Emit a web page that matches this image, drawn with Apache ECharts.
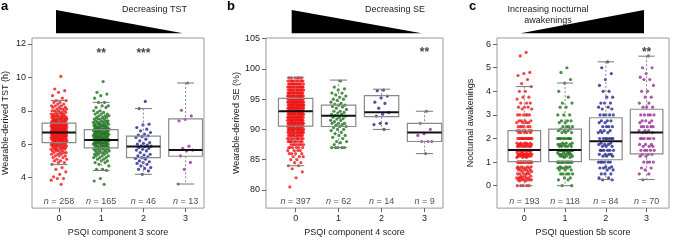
<!DOCTYPE html>
<html>
<head>
<meta charset="utf-8">
<script src="https://cdn.jsdelivr.net/npm/echarts@6/dist/echarts.min.js"></script>
<style>
  html, body { margin: 0; padding: 0; background: #fff; }
  #chart { width: 674px; height: 242px; }
</style>
</head>
<body>
<div id="chart"></div>
<script>
// group colours, same order in each panel (score 0..3)
const groupColors = ['#f01616', '#1a721a', '#23238f', '#932d93'];
const categories = [0, 1, 2, 3];

// box stats: [lower whisker, Q1, median, Q3, upper whisker]
const tstBox = [[4.78, 6.09, 6.7, 7.26, 8.62], [4.43, 5.78, 6.25, 6.87, 8.5], [4.2, 5.2, 5.86, 6.48, 8.13], [3.62, 5.28, 5.65, 7.51, 9.66]];
const seBox = [[84.0, 90.53, 93.0, 95.14, 98.6], [87.0, 90.48, 92.25, 94.0, 98.15], [90.0, 92.1, 92.85, 95.58, 96.64], [86.0, 88.0, 89.5, 91.0, 93.0]];
const wakeBox = [[0, 1.02, 1.51, 2.33, 4.2], [0, 1.02, 1.51, 2.4, 4.35], [0.26, 1.1, 1.88, 2.88, 5.25], [0.26, 1.35, 2.25, 3.24, 5.49]];

// individual points, as [value, how many at that value]
const tst0 = [[10.05,1],[9.3,1],[9.2,1],[9.1,1],[8.9,1],[8.75,1],[8.6,2],[8.5,2],[8.4,2],[8.3,3],[8.2,3],[8.1,4],[8.0,4],[7.9,4],[7.8,5],[7.7,6],[7.6,7],[7.5,8],[7.4,9],[7.3,10],[7.2,11],[7.1,12],[7.0,12],[6.9,12],[6.8,12],[6.7,12],[6.6,12],[6.5,12],[6.4,11],[6.3,10],[6.2,10],[6.1,9],[6.0,8],[5.9,7],[5.8,6],[5.7,5],[5.6,4],[5.5,4],[5.4,3],[5.3,3],[5.2,2],[5.1,2],[5.0,2],[4.9,2],[4.8,1],[4.6,1],[4.5,1],[4.35,1],[4.2,1],[4.05,1],[3.95,2],[3.85,1],[3.6,1]];
const tst1 = [[9.75,1],[9.1,1],[9.0,1],[8.9,1],[8.75,1],[8.5,2],[8.3,2],[8.2,2],[8.0,2],[7.9,2],[7.8,3],[7.7,3],[7.6,3],[7.5,4],[7.4,4],[7.3,5],[7.2,5],[7.1,6],[7.0,6],[6.9,7],[6.8,7],[6.7,7],[6.6,7],[6.5,7],[6.4,7],[6.3,7],[6.2,7],[6.1,7],[6.0,6],[5.9,6],[5.8,6],[5.7,5],[5.6,4],[5.5,4],[5.4,3],[5.3,3],[5.2,3],[5.1,2],[5.0,2],[4.9,2],[4.8,1],[4.7,1],[4.5,2],[4.43,1],[3.95,1],[3.8,1],[3.6,1]];
const tst2 = [[8.56,1],[8.13,1],[7.2,1],[7.15,1],[7.0,1],[6.9,1],[6.8,1],[6.7,1],[6.6,1],[6.55,1],[6.5,1],[6.45,1],[6.4,1],[6.3,1],[6.2,1],[6.1,1],[6.05,1],[6.0,1],[5.95,1],[5.9,1],[5.88,1],[5.85,1],[5.8,1],[5.75,1],[5.7,1],[5.65,1],[5.6,1],[5.5,1],[5.4,1],[5.35,1],[5.3,1],[5.25,1],[5.2,1],[5.15,1],[5.1,1],[5.0,1],[4.95,1],[4.9,1],[4.85,1],[4.8,1],[4.7,1],[4.6,1],[4.55,1],[4.5,1],[4.4,1],[4.2,1]];
const tst3 = [[9.66,1],[8.03,1],[7.69,1],[7.49,1],[7.4,1],[5.88,1],[5.75,1],[5.65,1],[5.6,1],[5.3,1],[4.91,1],[4.5,1],[3.62,1]];

const se0 = [[98.5,6],[98,10],[97.5,12],[97,14],[96.5,15],[96,16],[95.5,17],[95,18],[94.5,19],[94,20],[93.5,20],[93,20],[92.5,20],[92,19],[91.5,18],[91,18],[90.5,17],[90,16],[89.5,14],[89,12],[88.5,10],[88,9],[87.5,7],[87,6],[86.5,4],[86,4],[85.5,3],[85,2],[84.5,2],[84,2],[83.5,1],[83,1],[82,1],[80.5,1]];
const se1 = [[98,1],[97,1],[96.7,1],[96.5,1],[96,2],[95.7,1],[95.5,1],[95.3,1],[95,2],[94.8,1],[94.5,1],[94.3,1],[94.2,1],[94,2],[93.8,1],[93.7,1],[93.5,1],[93.3,1],[93,2],[92.8,1],[92.7,1],[92.5,2],[92.3,1],[92.2,1],[92,2],[91.8,1],[91.7,1],[91.5,2],[91.3,1],[91,3],[90.8,1],[90.7,1],[90.5,2],[90.3,1],[90,2],[89.8,1],[89.5,1],[89.3,1],[89,2],[88.7,1],[88.5,1],[88,2],[87.8,1],[87.5,1],[87,5]];
const se2 = [[96.5,1],[96.4,1],[95.5,1],[95.2,1],[94.5,1],[94.3,1],[93.5,1],[92.8,1],[92.5,1],[92.2,1],[91,2],[90.8,1],[90,1]];
const se3 = [[93,1],[91,1],[90,1],[89.3,1],[89,1],[88,3],[86,1]];

const wake0 = [[5.65,1],[5.5,1],[4.8,1],[4.75,1],[4.67,1],[4.5,1],[4.33,1],[4.2,1],[4.0,2],[3.75,2],[3.67,1],[3.5,3],[3.33,3],[3.25,2],[3.0,6],[2.75,4],[2.67,4],[2.5,6],[2.33,6],[2.25,5],[2.0,15],[1.8,5],[1.75,6],[1.67,8],[1.5,14],[1.4,5],[1.33,8],[1.25,8],[1.2,3],[1.0,24],[0.8,4],[0.75,5],[0.67,5],[0.6,3],[0.5,6],[0.4,3],[0.33,6],[0.25,6],[0.2,2],[0,5]];
const wake1 = [[5.0,1],[4.8,1],[4.5,1],[4.35,1],[4.0,1],[3.75,1],[3.5,2],[3.33,2],[3.0,3],[2.75,3],[2.67,2],[2.5,4],[2.4,2],[2.33,3],[2.25,3],[2.0,10],[1.8,3],[1.75,4],[1.67,5],[1.5,13],[1.4,4],[1.33,5],[1.25,4],[1.2,2],[1.0,17],[0.8,3],[0.75,4],[0.67,3],[0.5,5],[0.33,2],[0.25,2],[0,2]];
const wake2 = [[5.25,1],[5.0,1],[4.75,1],[4.5,1],[4.25,1],[4.0,2],[3.75,2],[3.5,3],[3.33,2],[3.25,2],[3.0,5],[2.75,3],[2.67,2],[2.5,4],[2.33,3],[2.25,3],[2.0,7],[1.8,2],[1.75,3],[1.67,3],[1.5,6],[1.33,4],[1.25,3],[1.0,6],[0.8,2],[0.75,3],[0.67,2],[0.5,3],[0.33,2],[0.25,2]];
const wake3 = [[5.5,1],[5.0,2],[4.75,1],[4.6,1],[4.5,2],[4.25,1],[4.0,2],[3.75,2],[3.5,2],[3.33,3],[3.0,5],[2.75,3],[2.67,2],[2.5,5],[2.33,3],[2.25,3],[2.0,6],[1.75,3],[1.67,3],[1.5,5],[1.33,3],[1.25,2],[1.0,4],[0.75,2],[0.67,1],[0.5,2],[0.25,1]];

// group sizes and significance marks
const tstN = [258, 165, 46, 13];
const seN = [397, 62, 14, 9];
const wakeN = [193, 118, 84, 70];
const tstStars = ['', '**', '***', ''];
const seStars = ['', '', '', '**'];
const wakeStars = ['', '', '', '**'];

// y tick labels
const tstTicks = [4, 6, 8, 10, 12];
const seTicks = [80, 85, 90, 95, 100, 105];
const wakeTicks = [0, 1, 2, 3, 4, 5, 6];

const FONT = 'Liberation Sans, Arial, sans-serif';
const BOX_W = 0.8;
const JITTER = 0.19;

const panels = [
    { box: tstBox, pts: [tst0, tst1, tst2, tst3], n: tstN, stars: tstStars, yTicks: tstTicks,
      grid: { left: 32, top: 38, width: 172, height: 175 }, x: [-0.64, 3.436], y: [2.18, 12.35],
      nY: 2.6, starY: 11.4, yName: 'Wearable-derived TST (h)', xName: 'PSQI component 3 score' },
    { box: seBox, pts: [se0, se1, se2, se3], n: seN, stars: seStars, yTicks: seTicks,
      grid: { left: 266, top: 38, width: 177, height: 175 }, x: [-0.69, 3.43], y: [77, 105.1],
      nY: 78.16, starY: 102.6, yName: 'Wearable-derived SE (%)', xName: 'PSQI component 4 score' },
    { box: wakeBox, pts: [wake0, wake1, wake2, wake3], n: wakeN, stars: wakeStars, yTicks: wakeTicks,
      grid: { left: 497, top: 38, width: 172, height: 175 }, x: [-0.67, 3.55], y: [-0.95, 6.26],
      nY: -0.65, starY: 5.63, yName: 'Nocturnal awakenings', xName: 'PSQI question 5b score' }
];

function expand(bins) {
    const out = [];
    bins.forEach(([v, c]) => { for (let i = 0; i < c; i++) out.push(v); });
    return out;
}

// spread points sideways (golden ratio sequence, so it is the same every time)
function jitter(k) {
    return (((k + 1) * 0.6180339887) % 1 - 0.5) * 2 * JITTER;
}

function renderBox(params, api) {
    const x = api.value(0);
    const lo = api.coord([x, api.value(1)]);
    const q1 = api.coord([x, api.value(2)]);
    const md = api.coord([x, api.value(3)]);
    const q3 = api.coord([x, api.value(4)]);
    const hi = api.coord([x, api.value(5)]);
    const half = api.size([BOX_W, 0])[0] / 2;
    const cap = half / 2;
    const cx = lo[0];
    const dashed = { stroke: '#8a8a8a', lineWidth: 1, lineDash: [2, 2] };
    const grey = { stroke: '#777', lineWidth: 1 };
    return {
        type: 'group',
        children: [
            { type: 'line', shape: { x1: cx, y1: hi[1], x2: cx, y2: q3[1] }, style: dashed },
            { type: 'line', shape: { x1: cx, y1: q1[1], x2: cx, y2: lo[1] }, style: dashed },
            { type: 'line', shape: { x1: cx - cap, y1: hi[1], x2: cx + cap, y2: hi[1] }, style: grey },
            { type: 'line', shape: { x1: cx - cap, y1: lo[1], x2: cx + cap, y2: lo[1] }, style: grey },
            { type: 'rect', shape: { x: cx - half, y: q3[1], width: half * 2, height: q1[1] - q3[1] },
              style: { fill: 'none', stroke: '#8a8a8a', lineWidth: 1.2 } },
            { type: 'line', shape: { x1: cx - half, y1: md[1], x2: cx + half, y2: md[1] },
              style: { stroke: '#111', lineWidth: 2 } }
        ]
    };
}

const grids = [], xAxes = [], yAxes = [], series = [];

panels.forEach((p, i) => {
    grids.push(Object.assign({ show: true, borderColor: '#999', borderWidth: 1 }, p.grid));
    xAxes.push({
        gridIndex: i, type: 'value', min: p.x[0], max: p.x[1],
        axisLine: { show: false, onZero: false }, splitLine: { show: false },
        axisTick: { show: true, customValues: categories, length: 4, lineStyle: { color: '#666' } },
        axisLabel: { customValues: categories, fontSize: 9, color: '#222', margin: 6, fontFamily: FONT },
        name: p.xName, nameLocation: 'middle', nameGap: 16,
        nameTextStyle: { fontSize: 9, color: '#222', fontFamily: FONT }
    });
    yAxes.push({
        gridIndex: i, type: 'value', min: p.y[0], max: p.y[1],
        axisLine: { show: false, onZero: false }, splitLine: { show: false },
        axisTick: { show: true, customValues: p.yTicks, length: 4, lineStyle: { color: '#666' } },
        axisLabel: { customValues: p.yTicks, fontSize: 9, color: '#222', margin: 6, fontFamily: FONT },
        name: p.yName, nameLocation: 'middle', nameRotate: 90, nameGap: 22,
        nameTextStyle: { fontSize: 9, color: '#222', fontFamily: FONT }
    });

    p.pts.forEach((bins, g) => {
        const vals = expand(bins);
        series.push({
            type: 'scatter', xAxisIndex: i, yAxisIndex: i, z: 2,
            symbol: 'circle', symbolSize: 3.2, silent: true,
            itemStyle: { color: groupColors[g], opacity: 0.8 },
            data: vals.map((v, k) => [g + jitter(k), v])
        });
    });

    series.push({
        type: 'custom', xAxisIndex: i, yAxisIndex: i, z: 5, silent: true,
        renderItem: renderBox,
        encode: { x: 0, y: [1, 2, 3, 4, 5] },
        data: p.box.map((b, g) => [g].concat(b))
    });

    // n = ... labels and significance stars
    series.push({
        type: 'scatter', xAxisIndex: i, yAxisIndex: i, z: 6, symbolSize: 0, silent: true,
        label: {
            show: true, position: 'inside', fontSize: 9, color: '#222', fontFamily: FONT,
            formatter: (d) => '{i|n} = ' + d.value[2],
            rich: { i: { fontStyle: 'italic', fontSize: 9, fontFamily: FONT, color: '#222' } }
        },
        data: p.n.map((n, g) => [g, p.nY, n])
    });
    series.push({
        type: 'scatter', xAxisIndex: i, yAxisIndex: i, z: 6, symbolSize: 0, silent: true,
        label: {
            show: true, position: 'inside', fontSize: 12, fontWeight: 'bold', color: '#111', fontFamily: FONT,
            formatter: (d) => d.value[2]
        },
        data: p.stars.map((s, g) => [g, p.starY, s]).filter(d => d[2])
    });
});

const textStyle = { fontSize: 9, fill: '#222', fontFamily: FONT };
const graphic = [
    { type: 'text', left: 1, top: 0, style: { text: 'a', fontSize: 13, fontWeight: 'bold', fill: '#000', fontFamily: FONT } },
    { type: 'text', left: 227, top: 0, style: { text: 'b', fontSize: 13, fontWeight: 'bold', fill: '#000', fontFamily: FONT } },
    { type: 'text', left: 469, top: 0, style: { text: 'c', fontSize: 13, fontWeight: 'bold', fill: '#000', fontFamily: FONT } },
    { type: 'polygon', shape: { points: [[56, 10], [183, 33.3], [56, 33.3]] }, style: { fill: '#000' } },
    { type: 'polygon', shape: { points: [[291.7, 10], [421.7, 33.3], [291.7, 33.3]] }, style: { fill: '#000' } },
    { type: 'polygon', shape: { points: [[520.7, 33.3], [644, 10], [644, 33.3]] }, style: { fill: '#000' } },
    { type: 'text', x: 122, y: 10, style: Object.assign({ text: 'Decreasing TST', verticalAlign: 'middle' }, textStyle) },
    { type: 'text', x: 365, y: 10, style: Object.assign({ text: 'Decreasing SE', verticalAlign: 'middle' }, textStyle) },
    { type: 'text', x: 548, y: 10, style: Object.assign({ text: 'Increasing nocturnal', align: 'center', verticalAlign: 'middle' }, textStyle) },
    { type: 'text', x: 548, y: 20.5, style: Object.assign({ text: 'awakenings', align: 'center', verticalAlign: 'middle' }, textStyle) }
];

const chart = echarts.init(document.getElementById('chart'), null, { renderer: 'canvas' });
chart.setOption({
    animation: false,
    backgroundColor: '#fff',
    grid: grids,
    xAxis: xAxes,
    yAxis: yAxes,
    series: series,
    graphic: graphic
});
</script>
</body>
</html>
